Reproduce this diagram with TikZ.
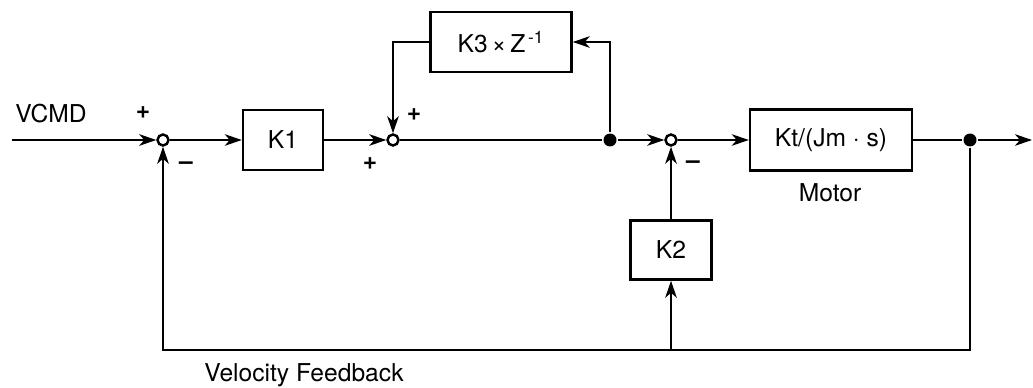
\documentclass[tikz,border=0pt]{standalone}
\usepackage{fontspec}
\setmainfont{TeX Gyre Heros}
\usetikzlibrary{arrows.meta}

\begin{document}
\begin{tikzpicture}[x=0.02cm, y=-0.02cm, line width=1.4pt,
  font=\fontsize{14}{16}\selectfont,
  >={Stealth[length=3.4mm, width=2.3mm, inset=1mm]},
  blk/.style={draw, inner sep=0pt},
  sumpt/.style={draw, circle, fill=white, inner sep=0pt, minimum size=0.22cm},
  dotpt/.style={circle, fill, inner sep=0pt, minimum size=0.26cm},
  sgn/.style={font=\fontsize{14}{16}\selectfont\bfseries}]
  \useasboundingbox (0,0) rectangle (1033,388);

  %% Summing points and branch dots on the forward line (y = 140)
  \node[sumpt] (s1) at (163,140) {};
  \node[sumpt] (s2) at (393,140) {};
  \node[sumpt] (s3) at (671,140) {};
  \node[dotpt] (br1) at (610,140) {};
  \node[dotpt] (br2) at (970,140) {};

  %% Blocks
  \node[blk, minimum width=1.6cm, minimum height=1.2cm]  (k1) at (283,140) {K1};
  \node[blk, minimum width=2.82cm, minimum height=1.2cm] (k3) at (501,42) {K3\,×\,Z\textsuperscript{\,-1}};
  \node[blk, minimum width=3.24cm, minimum height=1.22cm] (mot) at (831,140) {Kt/(Jm\;·\;s)};
  \node[blk, minimum width=1.62cm, minimum height=1.18cm] (k2) at (671,250) {K2};

  %% Texts
  \node (vcmd) at (51,114) {VCMD};
  \node (motlbl) at (830,193) {Motor};
  \node (fblbl) at (304,375) {Velocity Feedback};
  \node[sgn] (p1) at (143,113) {+};
  \node[sgn] (m1) at (186,166) {–};
  \node[sgn] (p2a) at (414,115) {+};
  \node[sgn] (p2b) at (370,164) {+};
  \node[sgn] (m3) at (693,165) {–};

  \coordinate (in) at (12,140);
  \coordinate (out) at (1032,140);
  \coordinate (fb) at (671,350);

  %% Forward path
  \draw[->] (in) -- (s1);
  \draw[->] (s1) -- (k1);
  \draw[->] (k1) -- (s2);
  \draw (s2) -- (br1);
  \draw[->] (br1) -- (s3);
  \draw[->] (s3) -- (mot);
  \draw (mot) -- (br2);
  \draw[->] (br2) -- (out);

  %% K3 loop
  \draw[->] (br1) |- (k3.east);
  \draw[->] (k3.west) -| (s2);

  %% Velocity feedback
  \draw[->] (br2) |- (fb) -| (s1);
  \draw[->] (fb) -- (k2);
  \draw[->] (k2) -- (s3);
\end{tikzpicture}
\end{document}
